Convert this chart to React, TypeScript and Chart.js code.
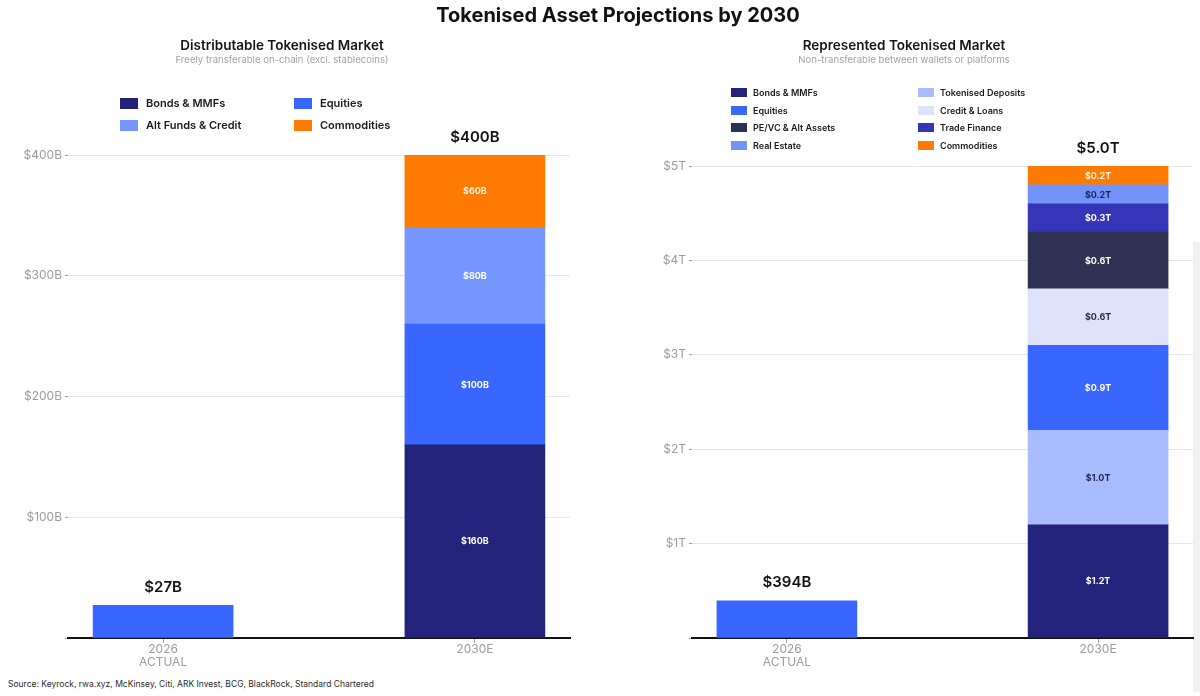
import React, { useEffect, useRef } from 'react';
import { Chart, registerables } from 'chart.js';

Chart.register(...registerables);

const FONT = 'Inter, "Noto Sans", "DejaVu Sans", sans-serif';

// Periods on the horizontal axis (a linear index scale: 0 and 1)
const PERIOD_LABELS: (string | string[])[] = [['2026', 'ACTUAL'], '2030E'];
const PERIOD_POS = [0, 1];

// ---- Distributable tokenised market ($B) ----
const DIST_ACTUAL = [27, null];
const DIST_SERIES = ['Bonds & MMFs', 'Equities', 'Alt Funds & Credit', 'Commodities'];
const DIST_2030 = [160, 100, 80, 60];
const DIST_COLORS = ['#23237c', '#3966ff', '#7696ff', '#ff7a00'];
const DIST_TEXT_COLORS = ['#ffffff', '#ffffff', '#ffffff', '#fff1dc'];
const DIST_TOTALS = ['$27B', '$400B'];
const DIST_Y_MAX = 400;
const DIST_Y_STEP = 100;
const DIST_LEGEND = ['Bonds & MMFs', 'Equities', 'Alt Funds & Credit', 'Commodities'];

// ---- Represented tokenised market ($T) ----
const REP_ACTUAL = [0.394, null];
const REP_SERIES = [
  'Bonds & MMFs',
  'Tokenised Deposits',
  'Equities',
  'Credit & Loans',
  'PE/VC & Alt Assets',
  'Trade Finance',
  'Real Estate',
  'Commodities',
];
const REP_2030 = [1.2, 1.0, 0.9, 0.6, 0.6, 0.3, 0.2, 0.2];
const REP_COLORS = ['#23237c', '#a9bcfd', '#3966ff', '#dee2fb', '#2e3151', '#3535b8', '#7393fb', '#ff7a00'];
const REP_TEXT_COLORS = ['#ffffff', '#23264f', '#ffffff', '#2c2c44', '#ffffff', '#ffffff', '#1f2460', '#fff1dc'];
const REP_TOTALS = ['$394B', '$5.0T'];
const REP_Y_MAX = 5;
const REP_Y_STEP = 1;
const REP_LEGEND = [
  'Bonds & MMFs',
  'Equities',
  'PE/VC & Alt Assets',
  'Real Estate',
  'Tokenised Deposits',
  'Credit & Loans',
  'Trade Finance',
  'Commodities',
];

const ACTUAL_COLOR = '#3966ff';

// Writes each segment's value in its middle and the stack total above each bar
const valueLabels = {
  id: 'valueLabels',
  afterDatasetsDraw(chart: any, _args: any, opts: any) {
    const ctx = chart.ctx;
    ctx.save();
    ctx.textAlign = 'center';
    ctx.textBaseline = 'middle';
    const tops: number[] = [];
    const xs: number[] = [];
    chart.data.datasets.forEach((ds: any, di: number) => {
      const meta = chart.getDatasetMeta(di);
      meta.data.forEach((el: any, i: number) => {
        const v = ds.data[i];
        if (v == null) return;
        const { x, y, base } = el.getProps(['x', 'y', 'base'], true);
        xs[i] = x;
        tops[i] = tops[i] == null ? y : Math.min(tops[i], y);
        if (ds.segmentTextColor) {
          ctx.font = `700 9px ${FONT}`;
          ctx.fillStyle = ds.segmentTextColor;
          ctx.fillText(opts.format(v), x, (y + base) / 2 + 0.5);
        }
      });
    });
    ctx.font = `600 15px ${FONT}`;
    ctx.fillStyle = '#111111';
    opts.totals.forEach((text: string, i: number) => {
      if (tops[i] == null) return;
      ctx.fillText(text, xs[i], tops[i] - 18);
    });
    ctx.restore();
  },
};

type PanelSpec = {
  actual: (number | null)[];
  series: string[];
  values: number[];
  colors: string[];
  textColors: string[];
  totals: string[];
  yMax: number;
  yStep: number;
  unit: string;
  decimals: number;
  axisWidth: number;
  padRight: number;
  padTop: number;
};

function buildConfig(p: PanelSpec): any {
  const fmt = (v: number) => `$${v.toFixed(p.decimals)}${p.unit}`;
  const datasets: any[] = [
    {
      label: 'Actual',
      data: p.actual,
      backgroundColor: ACTUAL_COLOR,
    },
    ...p.series.map((name, i) => ({
      label: name,
      data: [null, p.values[i]],
      backgroundColor: p.colors[i],
      segmentTextColor: p.textColors[i],
    })),
  ];
  return {
    type: 'bar',
    data: { labels: PERIOD_POS, datasets },
    plugins: [valueLabels],
    options: {
      responsive: false,
      animation: false,
      maintainAspectRatio: false,
      layout: { padding: { top: p.padTop, right: p.padRight, left: 0, bottom: 0 } },
      datasets: { bar: { barThickness: 140, borderWidth: 0 } },
      plugins: {
        legend: { display: false },
        tooltip: { enabled: false },
        valueLabels: { totals: p.totals, format: fmt },
      },
      scales: {
        x: {
          type: 'linear',
          stacked: true,
          offset: false,
          min: -0.305,
          max: 1.305,
          afterBuildTicks: (axis: any) => {
            axis.ticks = PERIOD_POS.map((v) => ({ value: v }));
          },
          afterFit: (axis: any) => {
            axis.height = 40;
          },
          border: { display: true, color: '#111111', width: 2 },
          grid: {
            offset: false,
            drawOnChartArea: false,
            drawTicks: true,
            tickLength: 5,
            tickColor: '#a0a0a0',
          },
          ticks: {
            autoSkip: false,
            maxRotation: 0,
            padding: 0,
            color: '#9c9c9c',
            font: { family: FONT, size: 12, lineHeight: 1.1 },
            callback: (v: number) => PERIOD_LABELS[v] ?? '',
          },
        },
        y: {
          stacked: true,
          min: 0,
          max: p.yMax,
          afterFit: (axis: any) => {
            axis.width = p.axisWidth;
          },
          border: { display: false },
          grid: { color: '#e6e6e6', lineWidth: 1, tickLength: 3, tickColor: '#a0a0a0' },
          ticks: {
            stepSize: p.yStep,
            padding: 3,
            color: '#9c9c9c',
            font: { family: FONT, size: 12 },
            callback: (v: number) => (v === 0 ? '' : `$${v}${p.unit}`),
          },
        },
      },
    },
  };
}

const DIST_SPEC: PanelSpec = {
  actual: DIST_ACTUAL,
  series: DIST_SERIES,
  values: DIST_2030,
  colors: DIST_COLORS,
  textColors: DIST_TEXT_COLORS,
  totals: DIST_TOTALS,
  yMax: DIST_Y_MAX,
  yStep: DIST_Y_STEP,
  unit: 'B',
  decimals: 0,
  axisWidth: 68,
  padRight: 30,
  padTop: 155,
};

const REP_SPEC: PanelSpec = {
  actual: REP_ACTUAL,
  series: REP_SERIES,
  values: REP_2030,
  colors: REP_COLORS,
  textColors: REP_TEXT_COLORS,
  totals: REP_TOTALS,
  yMax: REP_Y_MAX,
  yStep: REP_Y_STEP,
  unit: 'T',
  decimals: 1,
  axisWidth: 92,
  padRight: 7,
  padTop: 166,
};

function ChartCanvas({ spec, left }: { spec: PanelSpec; left: number }) {
  const ref = useRef<HTMLCanvasElement>(null);
  useEffect(() => {
    if (!ref.current) return;
    const chart = new Chart(ref.current, buildConfig(spec));
    return () => chart.destroy();
  }, [spec]);
  return (
    <canvas
      ref={ref}
      width={600}
      height={678}
      style={{ position: 'absolute', left, top: 0, width: 600, height: 678, display: 'block' }}
    />
  );
}

function Legend({
  names,
  series,
  colors,
  left,
  top,
  colWidth,
  rowHeight,
  rows,
  flow,
  swatchW,
  swatchH,
  gap,
  fontSize,
}: {
  names: string[];
  series: string[];
  colors: string[];
  left: number;
  top: number;
  colWidth: number;
  rowHeight: number;
  rows: number;
  flow: 'row' | 'column';
  swatchW: number;
  swatchH: number;
  gap: number;
  fontSize: number;
}) {
  return (
    <div
      style={{
        position: 'absolute',
        left,
        top,
        display: 'grid',
        gridTemplateColumns: `${colWidth}px ${colWidth}px`,
        gridTemplateRows: `repeat(${rows}, ${rowHeight}px)`,
        gridAutoFlow: flow,
      }}
    >
      {names.map((name) => (
        <div key={name} style={{ display: 'flex', alignItems: 'center', height: rowHeight }}>
          <span
            style={{
              display: 'inline-block',
              width: swatchW,
              height: swatchH,
              background: colors[series.indexOf(name)],
              marginRight: gap,
              flex: 'none',
            }}
          />
          <span style={{ fontSize, fontWeight: 600, color: '#1a1a1a', whiteSpace: 'nowrap' }}>{name}</span>
        </div>
      ))}
    </div>
  );
}

function PanelHeading({ title, note, center }: { title: string; note: string; center: number }) {
  return (
    <>
      <div
        style={{
          position: 'absolute',
          left: center - 200,
          width: 400,
          top: 36,
          textAlign: 'center',
          fontSize: 13.5,
          fontWeight: 600,
          lineHeight: '18px',
          color: '#151515',
        }}
      >
        {title}
      </div>
      <div
        style={{
          position: 'absolute',
          left: center - 200,
          width: 400,
          top: 54,
          textAlign: 'center',
          fontSize: 9.6,
          lineHeight: '12px',
          color: '#a3a3a3',
        }}
      >
        {note}
      </div>
    </>
  );
}

export default function App() {
  return (
    <div
      style={{
        position: 'absolute',
        left: 0,
        top: 0,
        width: 1200,
        height: 696,
        overflow: 'hidden',
        background: '#ffffff',
        fontFamily: FONT,
      }}
    >
      <div style={{ position: 'absolute', left: 1193, top: 242, width: 7, height: 450, background: '#f1f1f1' }} />
      <ChartCanvas spec={DIST_SPEC} left={0} />
      <ChartCanvas spec={REP_SPEC} left={600} />
      <div
        style={{
          position: 'absolute',
          left: 18,
          width: 1200,
          top: 2,
          textAlign: 'center',
          fontSize: 20,
          fontWeight: 700,
          lineHeight: '26px',
          color: '#111111',
        }}
      >
        Tokenised Asset Projections by 2030
      </div>
      <PanelHeading
        title="Distributable Tokenised Market"
        note="Freely transferable on-chain (excl. stablecoins)"
        center={282}
      />
      <PanelHeading
        title="Represented Tokenised Market"
        note="Non-transferable between wallets or platforms"
        center={904}
      />
      <Legend
        names={DIST_LEGEND}
        series={DIST_SERIES}
        colors={DIST_COLORS}
        left={120}
        top={92}
        colWidth={174}
        rowHeight={22}
        rows={2}
        flow="row"
        swatchW={18}
        swatchH={11}
        gap={8}
        fontSize={11}
      />
      <Legend
        names={REP_LEGEND}
        series={REP_SERIES}
        colors={REP_COLORS}
        left={731}
        top={83.5}
        colWidth={187}
        rowHeight={17.7}
        rows={4}
        flow="column"
        swatchW={16}
        swatchH={9}
        gap={6}
        fontSize={9}
      />
      <div
        style={{
          position: 'absolute',
          left: 8,
          top: 678,
          fontSize: 8.5,
          lineHeight: '12px',
          color: '#2a2a2a',
          whiteSpace: 'nowrap',
        }}
      >
        Source: Keyrock, rwa.xyz, McKinsey, Citi, ARK Invest, BCG, BlackRock, Standard Chartered
      </div>
    </div>
  );
}
